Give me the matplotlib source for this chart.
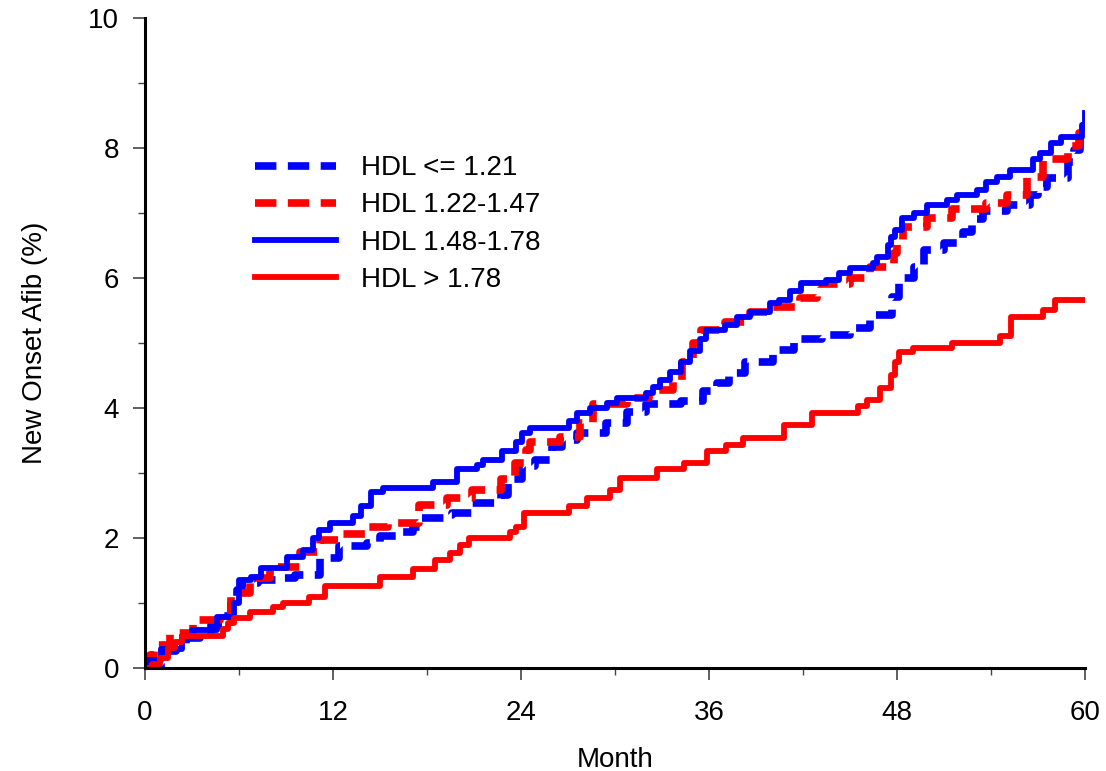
import matplotlib
matplotlib.use('Agg')
import matplotlib.pyplot as plt
from matplotlib.ticker import MultipleLocator

plt.rcParams['font.family'] = ['Liberation Sans', 'DejaVu Sans']

# HDL <= 1.21 (blue dashed)
m_hdl1 = [0, 1.0, 1.3, 2.0, 2.6, 3.5, 4.2, 5.0, 5.5, 5.9, 6.2, 7.2, 8.6, 9.6, 11.2, 12.4,
          14.2, 15.0, 16.1, 17.1, 17.7, 19.3, 19.6, 20.9, 22.7, 23.2, 24.1, 24.9, 26.0,
          26.6, 27.6, 29.4, 30.8, 32.0, 34.2, 35.6, 36.5, 37.3, 38.3, 40.1, 41.4, 43.2,
          45.0, 46.3, 47.7, 48.1, 49.1, 49.7, 51.0, 52.2, 52.8, 53.5, 55.0, 56.5, 57.0,
          57.6, 58.9, 59.3, 59.7, 60]
v_hdl1 = [0, 0.07, 0.25, 0.32, 0.45, 0.55, 0.65, 0.8, 1.0, 1.2, 1.3, 1.35, 1.38, 1.43,
          1.69, 1.87, 1.92, 2.02, 2.08, 2.17, 2.3, 2.35, 2.38, 2.54, 2.66, 2.9, 3.1, 3.2,
          3.4, 3.5, 3.61, 3.77, 3.94, 4.05, 4.1, 4.25, 4.38, 4.54, 4.71, 4.89, 5.05, 5.12,
          5.23, 5.43, 5.71, 6.0, 6.17, 6.43, 6.54, 6.71, 6.9, 7.02, 7.12, 7.28, 7.4, 7.54,
          7.78, 7.97, 8.32, 8.4]

# HDL 1.22-1.47 (red dashed)
m_hdl2 = [0, 0.3, 0.6, 1.6, 3.1, 4.8, 5.5, 6.7, 8.0, 9.9, 11.2, 12.4, 14.2, 15.5, 17.5,
          19.3, 20.9, 22.7, 23.6, 24.3, 24.6, 26.5, 27.8, 28.6, 30.8, 32.2, 33.7, 34.3,
          35.0, 35.5, 37.0, 38.6, 40.1, 41.8, 42.9, 45.0, 46.3, 47.8, 48.0, 48.4, 49.9,
          51.5, 53.7, 55.0, 56.3, 57.3, 58.9, 59.6, 60]
v_hdl2 = [0.05, 0.2, 0.35, 0.54, 0.74, 0.78, 1.15, 1.38, 1.55, 1.78, 1.97, 2.05, 2.17,
          2.23, 2.5, 2.61, 2.74, 2.9, 3.15, 3.35, 3.48, 3.55, 3.77, 4.05, 4.15, 4.28, 4.4,
          4.7, 5.0, 5.2, 5.32, 5.48, 5.55, 5.69, 5.9, 6.0, 6.17, 6.38, 6.58, 6.78, 6.92,
          7.05, 7.15, 7.28, 7.55, 7.82, 8.02, 8.23, 8.3]

# HDL 1.48-1.78 (blue solid)
m_hdl3 = [0, 0.2, 1.0, 2.4, 3.0, 4.6, 5.7, 6.0, 6.8, 7.4, 9.1, 10.1, 10.7, 11.1, 11.8,
          13.3, 13.8, 14.4, 15.2, 18.4, 19.9, 21.2, 21.6, 22.8, 23.7, 24.1, 24.6, 27.1,
          27.6, 28.4, 29.5, 30.1, 32.0, 32.4, 32.9, 33.5, 34.2, 34.8, 35.4, 35.8, 37.0,
          37.8, 38.6, 39.9, 40.5, 41.2, 41.9, 43.5, 44.3, 45.0, 46.5, 46.7, 47.4, 47.6,
          47.9, 48.3, 49.1, 49.9, 51.2, 51.8, 53.1, 53.7, 54.4, 55.2, 56.7, 57.1, 57.8,
          58.5, 59.8, 60]
v_hdl3 = [0, 0.12, 0.28, 0.48, 0.58, 0.78, 1.0, 1.35, 1.4, 1.53, 1.71, 1.81, 2.0, 2.12,
          2.23, 2.33, 2.48, 2.71, 2.77, 2.85, 3.05, 3.12, 3.2, 3.33, 3.48, 3.61, 3.69, 3.79,
          3.92, 4.0, 4.08, 4.15, 4.23, 4.32, 4.43, 4.55, 4.7, 4.88, 5.05, 5.2, 5.28, 5.4,
          5.48, 5.61, 5.66, 5.79, 5.92, 5.97, 6.08, 6.15, 6.23, 6.32, 6.5, 6.63, 6.74, 6.92,
          7.0, 7.12, 7.2, 7.28, 7.35, 7.48, 7.55, 7.66, 7.82, 7.92, 8.08, 8.17, 8.35, 8.54]

# HDL > 1.78 (red solid)
m_hdl4 = [0, 0.45, 0.96, 1.5, 1.9, 2.4, 5.0, 5.3, 5.7, 6.7, 8.2, 8.8, 10.5, 11.5, 15.0,
          17.1, 18.5, 19.5, 20.1, 20.7, 23.3, 23.7, 24.2, 27.1, 28.2, 29.7, 30.3, 32.7,
          34.4, 35.9, 37.1, 38.2, 40.8, 42.6, 45.5, 46.1, 46.9, 47.6, 47.9, 48.1, 49.0,
          51.5, 54.6, 55.3, 57.3, 58.1, 60]
v_hdl4 = [0, 0.05, 0.15, 0.3, 0.4, 0.48, 0.6, 0.69, 0.77, 0.86, 0.94, 1.0, 1.08, 1.25,
          1.4, 1.52, 1.66, 1.77, 1.88, 2.0, 2.08, 2.17, 2.38, 2.48, 2.61, 2.74, 2.92, 3.05,
          3.15, 3.33, 3.43, 3.54, 3.74, 3.92, 4.02, 4.12, 4.3, 4.5, 4.7, 4.85, 4.92, 5.0,
          5.1, 5.4, 5.5, 5.66, 5.66]

labels = ['HDL <= 1.21', 'HDL 1.22-1.47', 'HDL 1.48-1.78', 'HDL > 1.78']

fig = plt.figure(figsize=(11.06, 7.71), dpi=100)
ax = fig.add_axes([0.131, 0.134, 0.850, 0.843])

dash = (0, (2.8, 1.5))
ax.step(m_hdl1, v_hdl1, where='post', color='#0000ff', lw=5.5,
        linestyle=dash, label=labels[0])
ax.step(m_hdl2, v_hdl2, where='post', color='#ff0000', lw=5.5,
        linestyle=dash, label=labels[1])
ax.step(m_hdl3, v_hdl3, where='post', color='#0000ff', lw=4.2, label=labels[2])
ax.step(m_hdl4, v_hdl4, where='post', color='#ff0000', lw=4.2, label=labels[3])

ax.set_xlim(0, 60)
ax.set_ylim(0, 10)
ax.xaxis.set_major_locator(MultipleLocator(12))
ax.xaxis.set_minor_locator(MultipleLocator(6))
ax.yaxis.set_major_locator(MultipleLocator(2))
ax.yaxis.set_minor_locator(MultipleLocator(1))
ax.tick_params(which='major', direction='out', length=8.5, width=1.2, labelsize=20,
               color='#444444')
ax.tick_params(which='minor', direction='out', length=5, width=1.0, color='#444444')
ax.tick_params(axis='x', which='major', pad=15)
ax.tick_params(axis='y', which='major', pad=10)
for s in ['top', 'right']:
    ax.spines[s].set_visible(False)
for s in ['left', 'bottom']:
    ax.spines[s].set_linewidth(2.2)

ax.set_xlabel('Month', fontsize=20, labelpad=15)
ax.set_ylabel('New Onset Afib (%)', fontsize=20, labelpad=29)

ax.legend(loc='upper left', bbox_to_anchor=(0.208, 0.831), bbox_transform=fig.transFigure,
          frameon=False, fontsize=20, handlelength=2.9, handletextpad=0.9,
          labelspacing=0.40)

plt.savefig('out.png', dpi=100)
plt.close()
